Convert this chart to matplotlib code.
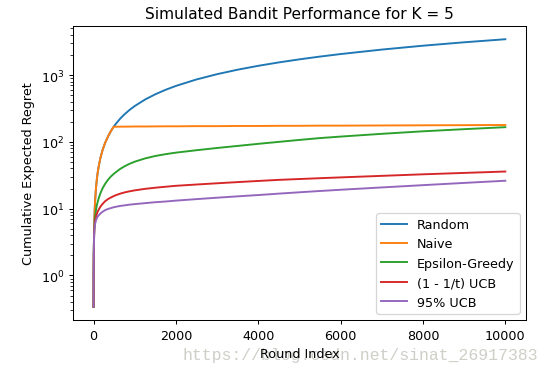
import matplotlib

matplotlib.use('Agg')
import matplotlib.pyplot as plt

rounds = [1, 3, 6, 10, 15, 20, 30, 40, 60, 80, 100, 130, 170, 220, 280, 350,
          420, 487, 550, 650, 750, 875, 1000, 1250, 1500, 1750, 2000, 2500,
          3000, 3500, 4000, 4500, 5000, 5500, 6000, 7000, 8000, 9000, 10000]

random_regret = [0.34, 1.03, 2.06, 3.44, 5.16, 6.9, 10.3, 13.8, 20.6, 27.5,
                 34.4, 44.7, 58.5, 75.7, 96.3, 120, 144.5, 168, 189, 224, 258,
                 301, 344, 430, 516, 602, 688, 860, 1032, 1204, 1376, 1548,
                 1720, 1892, 2064, 2408, 2752, 3096, 3440]
naive_regret = [0.34, 1.03, 2.06, 3.44, 5.16, 6.9, 10.3, 13.8, 20.6, 27.5,
                34.4, 44.7, 58.5, 75.7, 96.3, 120, 144.5, 168, 168.5, 169, 169,
                169.5, 170, 170, 170.5, 171, 171, 172, 172, 173, 173, 174, 174,
                175, 175, 176, 177, 178, 179]
eps_greedy_regret = [0.34, 1.0, 2.0, 3.2, 4.4, 5.4, 6.6, 7.7, 9.6, 11.2, 12.6,
                     14.6, 17.2, 20.2, 23.5, 27, 30.3, 33, 35.5, 39.5, 43, 47,
                     50.5, 56.5, 61.5, 65.5, 69, 75, 81, 87, 93.5, 100, 107, 114,
                     120, 132, 144, 155, 166]
ucb_1t_regret = [0.34, 1.0, 2.0, 3.1, 4.2, 5.0, 5.9, 6.6, 7.6, 8.4, 9.0, 9.8,
                 10.8, 11.8, 12.9, 13.9, 14.7, 15.4, 16, 16.8, 17.5, 18.2, 18.8,
                 19.8, 20.6, 21.3, 22, 23, 24, 25, 26, 27, 27.8, 28.6, 29.4, 31,
                 32.7, 34.3, 36]
ucb_95_regret = [0.34, 1.0, 2.0, 3.0, 4.0, 4.7, 5.5, 6.0, 6.7, 7.2, 7.6, 8.0,
                 8.5, 9.0, 9.5, 9.9, 10.2, 10.5, 10.7, 11.0, 11.2, 11.5, 11.7,
                 12.1, 12.5, 12.8, 13.2, 13.9, 14.6, 15.3, 16, 16.8, 17.6, 18.4,
                 19.2, 20.8, 22.5, 24.3, 26.2]

labels = ['Random', 'Naive', 'Epsilon-Greedy', '(1 - 1/t) UCB', '95% UCB']
series = [random_regret, naive_regret, eps_greedy_regret, ucb_1t_regret, ucb_95_regret]

fig = plt.figure(figsize=(553 / 92, 373 / 92), dpi=92)
ax = fig.add_axes([0.132, 0.139, 0.819, 0.789])

for values, label in zip(series, labels):
    ax.plot(rounds, values, label=label)

ax.set_yscale('log')
ax.set_title('Simulated Bandit Performance for K = 5')
ax.set_xlabel('Round Index')
ax.set_ylabel('Cumulative Expected Regret')
ax.legend(loc='lower right')

fig.text(0.33, 0.035, 'https://blog.csdn.net/sinat_26917383', family='Liberation Mono',
         fontsize=12.9, color='#cfcfc8', zorder=-1)

fig.savefig('out.png', dpi=92)
